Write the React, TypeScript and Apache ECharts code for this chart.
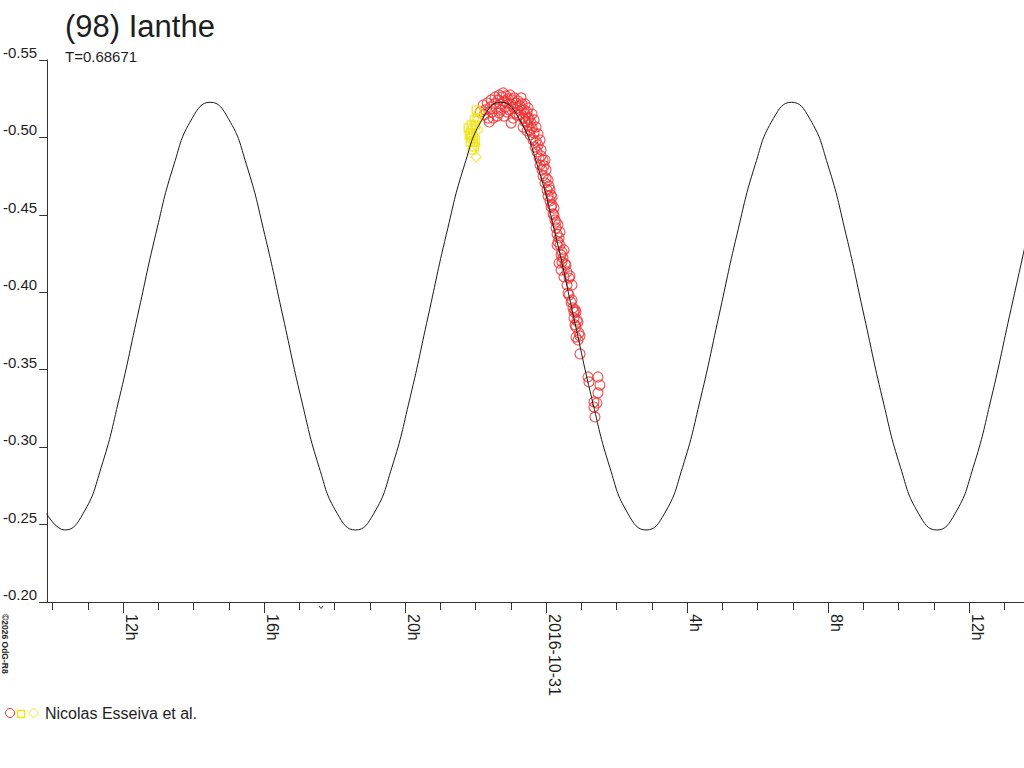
import React, { useEffect, useRef } from "react";
import * as echarts from "echarts";

// ---- data (hours relative to 2016-10-31 00:00, reduced magnitude) ----
const X_MIN = -14.151;
const X_MAX = 13.557;

const curveHours = [
  -14.165, -13.65, -13.135, -12.619, -12.104, -11.589, -11.073, -10.558, -10.043, -9.528,
  -9.012, -8.497, -7.982, -7.466, -6.951, -6.436, -5.92, -5.405, -4.89, -4.374,
  -3.859, -3.344, -2.829, -2.313, -1.798, -1.283, -0.768, -0.252, 0.263, 0.778,
  1.294, 1.809, 2.324, 2.84, 3.355, 3.87, 4.386, 4.901, 5.416, 5.931,
  6.447, 6.962, 7.477, 7.993, 8.508, 9.023, 9.538, 10.054, 10.569, 11.084,
  11.599, 12.115, 12.63, 13.145, 13.661,
];
const curveMag = [
  -0.257, -0.2465, -0.257, -0.2869, -0.3318, -0.3846, -0.4374, -0.4823, -0.5122, -0.5227,
  -0.5122, -0.4823, -0.4374, -0.3846, -0.3318, -0.2869, -0.257, -0.2465, -0.257, -0.2869,
  -0.3318, -0.3846, -0.4374, -0.4823, -0.5122, -0.5227, -0.5122, -0.4823, -0.4374, -0.3846,
  -0.3318, -0.2869, -0.257, -0.2465, -0.257, -0.2869, -0.3318, -0.3846, -0.4374, -0.4823,
  -0.5122, -0.5227, -0.5122, -0.4823, -0.4374, -0.3846, -0.3318, -0.2869, -0.257, -0.2465,
  -0.257, -0.2869, -0.3318, -0.3846, -0.4374,
];

const redCircles: [number, number][] = [
  [-1.868, -0.5164], [-1.783, -0.5209], [-1.726, -0.5177], [-1.67, -0.5222], [-1.641, -0.5125],
  [-1.613, -0.51], [-1.585, -0.5196], [-1.557, -0.5242], [-1.528, -0.5164], [-1.472, -0.5216],
  [-1.443, -0.5261], [-1.415, -0.519], [-1.387, -0.5138], [-1.358, -0.5242], [-1.33, -0.5274],
  [-1.302, -0.5216], [-1.274, -0.5177], [-1.245, -0.5261], [-1.217, -0.5287], [-1.189, -0.5235],
  [-1.16, -0.5196], [-1.132, -0.5268], [-1.104, -0.5222], [-1.075, -0.5248], [-1.047, -0.5177],
  [-1.019, -0.5274], [-0.991, -0.5216], [-0.991, -0.5093], [-0.962, -0.5242], [-0.934, -0.5196],
  [-0.906, -0.5255], [-0.877, -0.5158], [-0.849, -0.5222], [-0.821, -0.519], [-0.792, -0.5235],
  [-0.764, -0.5145], [-0.736, -0.5203], [-0.708, -0.5177], [-0.679, -0.5216], [-0.651, -0.5125],
  [-0.623, -0.5177], [-0.594, -0.5151], [-0.566, -0.5106], [-0.538, -0.5164], [-0.509, -0.508],
  [-0.481, -0.5125], [-0.453, -0.5048], [-0.425, -0.5093],
  [-1.755, -0.5145], [-1.5, -0.5125], [-1.33, -0.5158], [-1.189, -0.5138], [-1.104, -0.5164],
  [-0.934, -0.5125], [-0.821, -0.5145], [-0.708, -0.5255], [-0.594, -0.5216], [-0.509, -0.519],
  [-0.396, -0.5151], [-0.34, -0.5113], [-0.283, -0.5067], [-0.226, -0.5022], [-0.17, -0.4983],
  [-0.651, -0.5067], [-0.594, -0.51], [-0.538, -0.5042], [-0.509, -0.5119], [-0.453, -0.5016],
  [-0.396, -0.5061], [-0.368, -0.4983], [-0.34, -0.5029], [-0.311, -0.4938], [-0.283, -0.4977],
  [-0.255, -0.4906], [-0.226, -0.4951], [-0.198, -0.4867], [-0.17, -0.4822], [-0.142, -0.488],
  [-0.113, -0.479], [-0.085, -0.4751], [-0.057, -0.4816], [-0.028, -0.4706], [0.0, -0.4738],
  [0.028, -0.4661], [0.057, -0.4622], [0.085, -0.4686], [0.113, -0.459], [0.142, -0.4551],
  [0.17, -0.4615], [0.198, -0.4506], [0.226, -0.4544], [0.255, -0.4467], [0.283, -0.4415],
  [0.311, -0.4376], [0.34, -0.4435], [0.368, -0.4351], [0.396, -0.4305], [0.34, -0.4325],
  [0.425, -0.4241], [0.368, -0.4189], [0.566, -0.4176], [0.509, -0.4099], [0.651, -0.4092],
  [0.453, -0.426], [0.481, -0.4221], [0.538, -0.4183], [0.594, -0.4131], [0.623, -0.3995],
  [0.679, -0.4105], [0.708, -0.3937], [0.736, -0.4047], [0.764, -0.3899], [0.792, -0.3873],
  [0.821, -0.3886], [0.849, -0.3776], [0.906, -0.3808], [0.934, -0.3737], [0.849, -0.3711],
  [0.962, -0.3718], [0.877, -0.3821], [0.962, -0.3602], [1.189, -0.3453], [1.472, -0.3453],
  [1.528, -0.3401], [1.472, -0.335], [1.358, -0.3292], [1.443, -0.3285], [1.387, -0.3195],
  [1.358, -0.3259], [1.217, -0.3421],
  [-0.142, -0.4919], [-0.085, -0.4854], [0.0, -0.479], [0.057, -0.4725], [0.113, -0.4661],
  [0.17, -0.4564], [0.226, -0.4499], [0.283, -0.4454], [0.311, -0.4305], [0.396, -0.4389],
  [0.453, -0.4196], [0.509, -0.4273], [0.594, -0.4047], [0.651, -0.3982], [0.736, -0.395],
  [0.792, -0.3834], [0.849, -0.3873], [0.906, -0.3692], [0.821, -0.3789], [0.425, -0.4144],
  [0.142, -0.4628], [-0.028, -0.4854],
];

const yellowSquares: [number, number][] = [
  [-2.151, -0.5029], [-2.094, -0.5048], [-2.123, -0.4996], [-2.066, -0.497], [-2.038, -0.4938],
  [-2.094, -0.4919], [-2.009, -0.508], [-1.953, -0.5125], [-2.066, -0.5009], [-2.009, -0.4983],
  [-2.207, -0.5061], [-2.179, -0.5016], [-2.151, -0.497], [-2.038, -0.5113], [-1.981, -0.5177],
  [-2.123, -0.508],
];
const yellowDiamonds: [number, number][] = [
  [-1.896, -0.5164], [-1.953, -0.5113], [-1.925, -0.5048], [-1.981, -0.4874], [-2.009, -0.4951],
];

const hourTicks = [-14, -13, -12, -11, -10, -9, -8, -7, -6, -5, -4, -3, -2, -1, 0, 1, 2, 3, 4, 5, 6, 7, 8, 9, 10, 11, 12, 13];
const majorTicks = [-12, -8, -4, 0, 4, 8, 12];
const majorLabels = ["12h", "16h", "20h", "2016-10-31", "4h", "8h", "12h"];

const Y_MIN = -0.55;
const Y_MAX = -0.2;
const Y_STEP = 0.05;

const TITLE = "(98) Ianthe";
const SUBTITLE = "T=0.68671";
const LEGEND_TEXT = "Nicolas Esseiva et al.";
const COPYRIGHT = "©2026 OdG-R8";

const RED = "#ee3232";
const YELLOW = "#f0e41a";
const INK = "#1e1e1e";
const FONT = "'Liberation Sans', Arial, sans-serif";

export default function App() {
  const ref = useRef<HTMLDivElement>(null);

  useEffect(() => {
    if (!ref.current) return;
    const chart = echarts.init(ref.current, null, { renderer: "svg" });
    const curveData = curveHours.map((h, i) => [h, curveMag[i]]);

    const option: any = {
      animation: false,
      backgroundColor: "#ffffff",
      textStyle: { fontFamily: FONT },
      grid: { left: 45, right: 0, top: 60, bottom: 166, containLabel: false },
      xAxis: [
        {
          type: "value",
          min: X_MIN,
          max: X_MAX,
          position: "bottom",
          axisLine: { show: true, onZero: false, lineStyle: { color: "#333", width: 1 } },
          axisTick: { show: true, customValues: hourTicks, length: 8, lineStyle: { color: "#333", width: 1 } },
          axisLabel: { show: false },
          splitLine: { show: false },
        },
        {
          type: "value",
          min: X_MIN,
          max: X_MAX,
          position: "bottom",
          axisLine: { show: false, onZero: false },
          axisTick: { show: true, customValues: majorTicks, length: 11, lineStyle: { color: "#333", width: 1 } },
          axisLabel: {
            show: true,
            customValues: majorTicks,
            rotate: -90,
            margin: 12,
            fontSize: 16,
            color: INK,
            fontFamily: FONT,
            verticalAlign: "bottom",
            formatter: (v: number) => {
              const i = majorTicks.indexOf(Math.round(v));
              return i >= 0 ? majorLabels[i] : "";
            },
          },
          splitLine: { show: false },
        },
      ],
      yAxis: {
        type: "value",
        min: Y_MIN,
        max: Y_MAX,
        interval: Y_STEP,
        inverse: true,
        axisLine: { show: true, onZero: false, lineStyle: { color: "#333", width: 1 } },
        axisTick: { show: true, length: 8, lineStyle: { color: "#333", width: 1 } },
        axisLabel: {
          show: true,
          margin: 10,
          fontSize: 15,
          color: INK,
          fontFamily: FONT,
          align: "right",
          verticalAlign: "bottom",
          formatter: (v: number) => v.toFixed(2),
        },
        splitLine: { show: false },
      },
      series: [
        {
          type: "scatter",
          xAxisIndex: 0,
          data: redCircles,
          symbol: "circle",
          symbolSize: 10,
          itemStyle: { color: "rgba(0,0,0,0)", borderColor: RED, borderWidth: 1.2 },
          z: 2,
        },
        {
          type: "scatter",
          xAxisIndex: 0,
          data: yellowSquares,
          symbol: "rect",
          symbolSize: 8,
          itemStyle: { color: "rgba(0,0,0,0)", borderColor: YELLOW, borderWidth: 1.5 },
          z: 3,
        },
        {
          type: "scatter",
          xAxisIndex: 0,
          data: yellowDiamonds,
          symbol: "diamond",
          symbolSize: 10,
          itemStyle: { color: "rgba(0,0,0,0)", borderColor: YELLOW, borderWidth: 1.2 },
          z: 3,
        },
        {
          type: "line",
          xAxisIndex: 0,
          data: curveData,
          smooth: 0.5,
          showSymbol: false,
          symbol: "none",
          clip: true,
          lineStyle: { color: "#1a1a1a", width: 1 },
          z: 4,
        },
      ],
      graphic: [
        {
          type: "text",
          left: 65,
          top: 11,
          style: { text: TITLE, fontSize: 31, fill: INK, fontFamily: FONT },
        },
        {
          type: "text",
          left: 65,
          top: 49,
          style: { text: SUBTITLE, fontSize: 15, fill: INK, fontFamily: FONT },
        },
        {
          type: "text",
          x: 0,
          y: 614,
          rotation: -Math.PI / 2,
          style: { text: COPYRIGHT, x: 0, y: 0, fontSize: 8.5, fontWeight: "bold", fill: INK, fontFamily: FONT, align: "left", verticalAlign: "bottom" },
        },
        {
          type: "polyline",
          shape: { points: [[319, 606], [321, 608.5], [323, 606]] },
          style: { stroke: "#333", lineWidth: 1, fill: "none" },
        },
        {
          type: "circle",
          shape: { cx: 10, cy: 713, r: 4.5 },
          style: { stroke: RED, fill: "none", lineWidth: 1 },
        },
        {
          type: "rect",
          shape: { x: 17.5, y: 710.5, width: 7, height: 7 },
          style: { stroke: YELLOW, fill: "none", lineWidth: 1.5 },
        },
        {
          type: "polygon",
          shape: { points: [[33.5, 708], [38.5, 713], [33.5, 718], [28.5, 713]] },
          style: { stroke: YELLOW, fill: "none", lineWidth: 1 },
        },
        {
          type: "text",
          x: 45,
          y: 713,
          style: { text: LEGEND_TEXT, fontSize: 16, fill: INK, fontFamily: FONT, verticalAlign: "middle" },
        },
      ],
    };

    chart.setOption(option);
    return () => chart.dispose();
  }, []);

  return (
    <div
      ref={ref}
      style={{ position: "absolute", left: 0, top: 0, width: 1024, height: 768, background: "#fff" }}
    />
  );
}
